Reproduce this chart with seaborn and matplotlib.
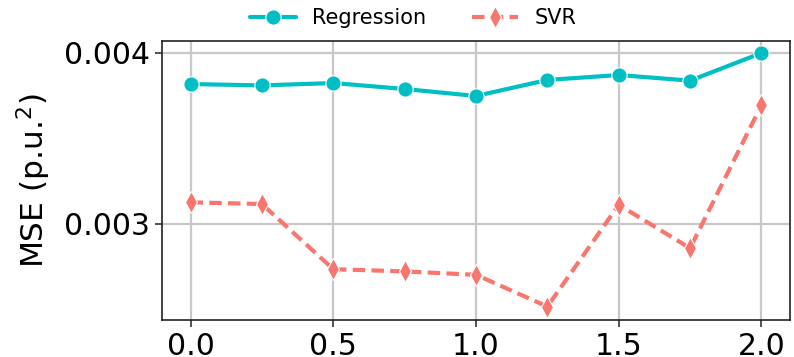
import numpy as np
import pandas as pd
import matplotlib
matplotlib.use("Agg")
import matplotlib.pyplot as plt
import seaborn as sns

x_vals = [0.0, 0.25, 0.5, 0.75, 1.0, 1.25, 1.5, 1.75, 2.0]
regression = [0.003818, 0.003810, 0.003824, 0.003789, 0.003748, 0.003842, 0.003871, 0.003838, 0.004000]
svr = [0.003125, 0.003115, 0.002733, 0.002720, 0.002700, 0.002514, 0.003110, 0.002856, 0.003695]
series_names = ["Regression", "SVR"]
colors = {"Regression": "#00BFC4", "SVR": "#F8766D"}

df = pd.DataFrame({
    "x": x_vals * 2,
    "MSE": regression + svr,
    "Method": [series_names[0]] * len(x_vals) + [series_names[1]] * len(x_vals),
})

sns.set_style("whitegrid")
plt.rcParams['font.family'] = ['DejaVu Sans']
plt.rcParams['text.color'] = 'black'
plt.rcParams['axes.labelcolor'] = 'black'
plt.rcParams['xtick.color'] = 'black'
plt.rcParams['ytick.color'] = 'black'

fig = plt.figure(figsize=(7.94, 3.57), dpi=100)
ax = fig.add_axes([0.204, 0.104, 0.791, 0.781])

sns.lineplot(data=df, x="x", y="MSE", hue="Method", style="Method",
             palette=colors, markers={"Regression": "o", "SVR": "d"},
             dashes={"Regression": "", "SVR": (3, 1.5)},
             linewidth=3, markersize=11, markeredgecolor="white", markeredgewidth=0.8,
             ax=ax)

ax.set_xlim(-0.1, 2.1)
ax.set_ylim(0.002436, 0.00407)
ax.set_xticks([0.0, 0.5, 1.0, 1.5, 2.0])
ax.set_xticklabels(["0.0", "0.5", "1.0", "1.5", "2.0"])
ax.set_yticks([0.003, 0.004])
ax.set_yticklabels(["0.003", "0.004"])
ax.tick_params(axis="both", labelsize=21.5, length=5, width=1.2, color="#333333", left=True, bottom=True)
ax.set_xlabel("")
ax.set_ylabel("MSE (p.u.$^2$)", fontsize=22.5, labelpad=8)
ax.grid(True, color="#c8c8c8", linewidth=1.6)
for s in ax.spines.values():
    s.set_color("#222222")
    s.set_linewidth(1.2)

leg = ax.legend(loc="lower center", bbox_to_anchor=(0.4, 0.98), ncol=2, frameon=False,
                fontsize=15, handlelength=2.2, columnspacing=2.2, handletextpad=0.8)
leg.set_title(None)

fig.savefig("out.png", dpi=100)
